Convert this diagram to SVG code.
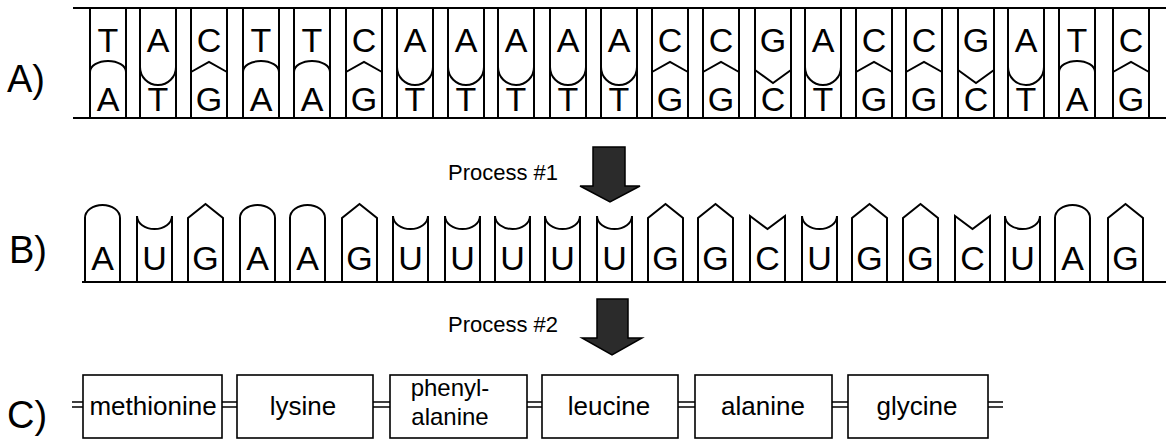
<svg xmlns="http://www.w3.org/2000/svg" xmlns:xlink="http://www.w3.org/1999/xlink" width="1166" height="442" viewBox="0 0 1166 442">
<style>
.ln{stroke:#000;stroke-width:2;fill:none}
.tile{stroke:#000;stroke-width:2;fill:#fff}
.bx{stroke:#000;stroke-width:1.6;fill:#fff}
.txt{font-family:"Liberation Sans",Arial,sans-serif;fill:#000}
.base{font-size:34px;text-anchor:middle}
.lab{font-size:38px}
.aa{font-size:26px;text-anchor:middle}
.aa2{font-size:24px}
.proc{font-size:22px}
.arr{fill:#2b2b2b;stroke:#000;stroke-width:1.5}
.bond{stroke:#000;stroke-width:1.6;fill:none}
</style>
<defs>
<path id="dT" class="ln" d="M0 8V118M36 8V118M0 72A18 11 0 0 1 36 72"/>
<path id="dA" class="ln" d="M0 8V118M36 8V118M0 67A18 18 0 0 0 36 67"/>
<path id="dC" class="ln" d="M0 8V118M36 8V118M0 72L18 62L36 72"/>
<path id="dG" class="ln" d="M0 8V118M36 8V118M0 70L18 83L36 70"/>
<path id="bA" class="tile" d="M0 282V218A17.5 13 0 0 1 35 218V282Z"/>
<path id="bU" class="tile" d="M0 282V216A17.5 13 0 0 0 35 216V282Z"/>
<path id="bG" class="tile" d="M0 282V218L17.5 204L35 218V282Z"/>
<path id="bC" class="tile" d="M0 282V216L17.5 229L35 216V282Z"/>
</defs>
<rect width="1166" height="442" fill="#fff"/>

<g id="labels" class="txt lab">
<text x="7" y="92">A)</text>
<text x="9" y="263">B)</text>
<text x="7" y="428">C)</text>
</g>

<g id="dna">
<path class="ln" d="M73 8H1166M73 118H1166"/>
<g class="txt base">
<g id="a0"><use href="#dT" x="90"/><text x="108" y="52">T</text><text x="108" y="111">A</text></g>
<g id="a1"><use href="#dA" x="140"/><text x="158" y="52">A</text><text x="158" y="111">T</text></g>
<g id="a2"><use href="#dC" x="191"/><text x="209" y="52">C</text><text x="209" y="111">G</text></g>
<g id="a3"><use href="#dT" x="243"/><text x="261" y="52">T</text><text x="261" y="111">A</text></g>
<g id="a4"><use href="#dT" x="294"/><text x="312" y="52">T</text><text x="312" y="111">A</text></g>
<g id="a5"><use href="#dC" x="346"/><text x="364" y="52">C</text><text x="364" y="111">G</text></g>
<g id="a6"><use href="#dA" x="397"/><text x="415" y="52">A</text><text x="415" y="111">T</text></g>
<g id="a7"><use href="#dA" x="448"/><text x="466" y="52">A</text><text x="466" y="111">T</text></g>
<g id="a8"><use href="#dA" x="498"/><text x="516" y="52">A</text><text x="516" y="111">T</text></g>
<g id="a9"><use href="#dA" x="550"/><text x="568" y="52">A</text><text x="568" y="111">T</text></g>
<g id="a10"><use href="#dA" x="601"/><text x="619" y="52">A</text><text x="619" y="111">T</text></g>
<g id="a11"><use href="#dC" x="652"/><text x="670" y="52">C</text><text x="670" y="111">G</text></g>
<g id="a12"><use href="#dC" x="703"/><text x="721" y="52">C</text><text x="721" y="111">G</text></g>
<g id="a13"><use href="#dG" x="755"/><text x="773" y="52">G</text><text x="773" y="111">C</text></g>
<g id="a14"><use href="#dA" x="805"/><text x="823" y="52">A</text><text x="823" y="111">T</text></g>
<g id="a15"><use href="#dC" x="856"/><text x="874" y="52">C</text><text x="874" y="111">G</text></g>
<g id="a16"><use href="#dC" x="906"/><text x="924" y="52">C</text><text x="924" y="111">G</text></g>
<g id="a17"><use href="#dG" x="958"/><text x="976" y="52">G</text><text x="976" y="111">C</text></g>
<g id="a18"><use href="#dA" x="1008"/><text x="1026" y="52">A</text><text x="1026" y="111">T</text></g>
<g id="a19"><use href="#dT" x="1059"/><text x="1077" y="52">T</text><text x="1077" y="111">A</text></g>
<g id="a20"><use href="#dC" x="1113"/><text x="1131" y="52">C</text><text x="1131" y="111">G</text></g>
</g>
</g>

<g id="rna">
<g class="txt base">
<g id="b0"><use href="#bA" x="85"/><text x="102.5" y="270">A</text></g>
<g id="b1"><use href="#bU" x="137"/><text x="154.5" y="270">U</text></g>
<g id="b2"><use href="#bG" x="188"/><text x="205.5" y="270">G</text></g>
<g id="b3"><use href="#bA" x="240"/><text x="257.5" y="270">A</text></g>
<g id="b4"><use href="#bA" x="290"/><text x="307.5" y="270">A</text></g>
<g id="b5"><use href="#bG" x="342"/><text x="359.5" y="270">G</text></g>
<g id="b6"><use href="#bU" x="393"/><text x="410.5" y="270">U</text></g>
<g id="b7"><use href="#bU" x="445"/><text x="462.5" y="270">U</text></g>
<g id="b8"><use href="#bU" x="495"/><text x="512.5" y="270">U</text></g>
<g id="b9"><use href="#bU" x="545"/><text x="562.5" y="270">U</text></g>
<g id="b10"><use href="#bU" x="597"/><text x="614.5" y="270">U</text></g>
<g id="b11"><use href="#bG" x="648"/><text x="665.5" y="270">G</text></g>
<g id="b12"><use href="#bG" x="698"/><text x="715.5" y="270">G</text></g>
<g id="b13"><use href="#bC" x="750"/><text x="767.5" y="270">C</text></g>
<g id="b14"><use href="#bU" x="802"/><text x="819.5" y="270">U</text></g>
<g id="b15"><use href="#bG" x="852"/><text x="869.5" y="270">G</text></g>
<g id="b16"><use href="#bG" x="903"/><text x="920.5" y="270">G</text></g>
<g id="b17"><use href="#bC" x="955"/><text x="972.5" y="270">C</text></g>
<g id="b18"><use href="#bU" x="1005"/><text x="1022.5" y="270">U</text></g>
<g id="b19"><use href="#bA" x="1055"/><text x="1072.5" y="270">A</text></g>
<g id="b20"><use href="#bG" x="1108"/><text x="1125.5" y="270">G</text></g>
</g>
<path class="ln" d="M82 282H1166"/>
</g>

<g id="protein" class="txt aa">
<g id="c0"><rect class="bx" x="83" y="375" width="139" height="63"/><text x="153" y="415">methionine</text></g>
<g id="c1"><rect class="bx" x="237" y="375" width="136" height="63"/><text x="303" y="415">lysine</text></g>
<g id="c2"><rect class="bx" x="390" y="375" width="137" height="63"/><text class="aa2" x="450" y="396">phenyl-</text><text class="aa2" x="450" y="425">alanine</text></g>
<g id="c3"><rect class="bx" x="542" y="375" width="136" height="63"/><text x="609" y="415">leucine</text></g>
<g id="c4"><rect class="bx" x="695" y="375" width="137" height="63"/><text x="763" y="415">alanine</text></g>
<g id="c5"><rect class="bx" x="848" y="375" width="140" height="63"/><text x="917" y="415">glycine</text></g>
</g>

<g id="connectors">
<polygon class="arr" points="593,147 625,147 625,186 640,186 610,202 580,186 593,186"/>
<text class="txt proc" x="448" y="180">Process #1</text>
<polygon class="arr" points="597,299 628,299 628,338 642,338 612,355 582,338 597,338"/>
<text class="txt proc" x="448" y="332">Process #2</text>
<path class="bond" d="M72 402H83M72 407H83M222 402H237M222 407H237M373 402H390M373 407H390M527 402H542M527 407H542M678 402H695M678 407H695M832 402H848M832 407H848M988 402H1003M988 407H1003"/>
</g>
</svg>
